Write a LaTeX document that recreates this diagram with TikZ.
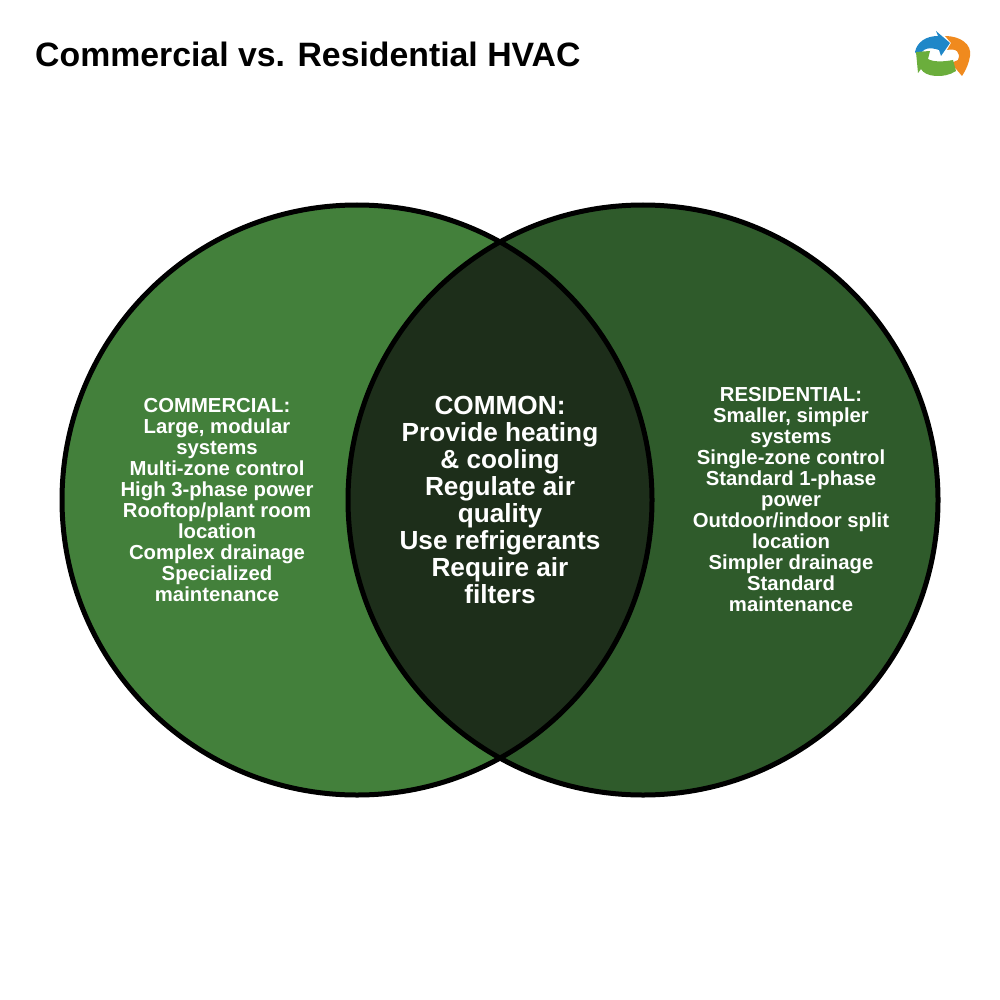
\documentclass[tikz,border=0pt]{standalone}
\usepackage{fontspec}
\setmainfont{Liberation Sans}
\definecolor{lgreen}{HTML}{43803B}
\definecolor{rgreen}{HTML}{2F5B2B}
\definecolor{cgreen}{HTML}{1D2E1A}
\definecolor{logoblue}{HTML}{1F87C8}
\definecolor{logogreen}{HTML}{6BAE3C}
\definecolor{logoorange}{HTML}{F08A1E}
\tikzset{
  lab/.style={text=white,font=\fontsize{20.3pt}{21pt}\selectfont\bfseries,align=center,inner sep=0pt},
  labc/.style={text=white,font=\fontsize{26.2pt}{27pt}\selectfont\bfseries,align=center,inner sep=0pt},
  ring/.style={draw=black,line width=5pt}
}
\begin{document}
\begin{tikzpicture}[x=1pt,y=-1pt]
\useasboundingbox (0,0) rectangle (1000,1000);
\fill[white] (0,0) rectangle (1000,1000);
\fill[lgreen] (357,500) circle[radius=295];
\fill[rgreen] (643,500) circle[radius=295];
\begin{scope}
\clip (357,500) circle[radius=295];
\fill[cgreen] (643,500) circle[radius=295];
\end{scope}
\draw[ring] (357,500) circle[radius=295];
\draw[ring] (643,500) circle[radius=295];
\node[anchor=west,inner sep=0pt,font=\fontsize{33.8pt}{35pt}\selectfont\bfseries] (title) at (35,54) {Commercial vs. Residential HVAC};
\node[lab] (com) at (217,500) {COMMERCIAL:\\Large, modular\\systems\\Multi-zone control\\High 3-phase power\\Rooftop/plant room\\location\\Complex drainage\\Specialized\\maintenance};
\node[labc] (mid) at (500,500) {COMMON:\\Provide heating\\\& cooling\\Regulate air\\quality\\Use refrigerants\\Require air\\filters};
\node[lab] (res) at (791,500) {RESIDENTIAL:\\Smaller, simpler\\systems\\Single-zone control\\Standard 1-phase\\power\\Outdoor/indoor split\\location\\Simpler drainage\\Standard\\maintenance};
% logo: three curved arrows
\fill[logoblue] (915,52) .. controls (917,42) and (926,36) .. (938,36) -- (936,31) -- (950,43) -- (941,56) -- (939,50) .. controls (930,47) and (922,47) .. (919,58) -- cycle;
\fill[logoorange] (945,36) .. controls (960,36) and (972,44) .. (970,56) .. controls (969,63) and (966,70) .. (962,76) -- (951,63) -- (958,60) .. controls (961,52) and (956,48) .. (947,50) -- (951,43) -- cycle;
\fill[logogreen] (916,52) -- (930,51) -- (928,59) .. controls (933,62) and (943,62) .. (953,60) -- (956,71) .. controls (944,79) and (925,77) .. (921,69) -- (918,73) -- cycle;
\end{tikzpicture}
\end{document}
